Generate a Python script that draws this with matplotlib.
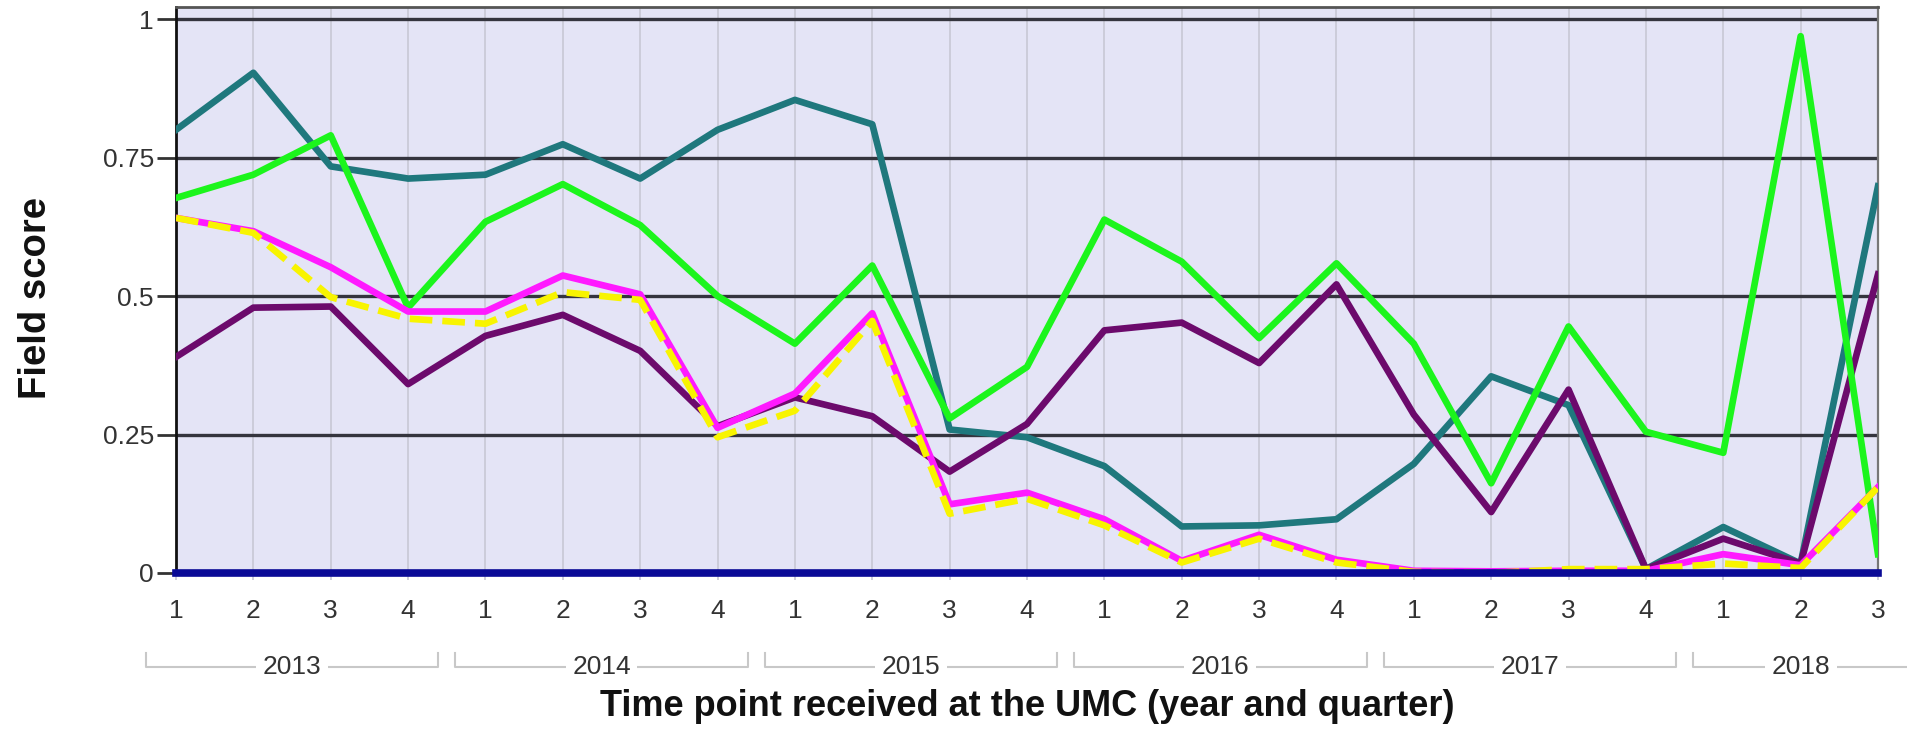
import matplotlib
matplotlib.use("Agg")
import matplotlib.pyplot as plt
import matplotlib.transforms as mtransforms
import numpy as np

plt.rcParams['font.family'] = ['Liberation Sans', 'DejaVu Sans']

# Time axis: year / quarter
years = ['2013', '2014', '2015', '2016', '2017', '2018']
quarters_per_year = [4, 4, 4, 4, 4, 3]
quarter_labels = ['1', '2', '3', '4'] * 5 + ['1', '2', '3']

# Field scores per series
teal_scores = [0.80, 0.903, 0.734, 0.712, 0.719, 0.774, 0.712, 0.80, 0.854, 0.81,
               0.259, 0.245, 0.193, 0.084, 0.086, 0.097, 0.197, 0.355, 0.303,
               0.007, 0.083, 0.017, 0.698]
green_scores = [0.677, 0.719, 0.79, 0.479, 0.634, 0.702, 0.628, 0.50, 0.414, 0.555,
                0.279, 0.372, 0.638, 0.562, 0.424, 0.559, 0.414, 0.162, 0.445,
                0.255, 0.217, 0.969, 0.034]
purple_scores = [0.39, 0.479, 0.481, 0.341, 0.428, 0.466, 0.401, 0.265, 0.317, 0.283,
                 0.183, 0.269, 0.438, 0.452, 0.379, 0.521, 0.286, 0.110, 0.331,
                 0.007, 0.062, 0.017, 0.539]
magenta_scores = [0.641, 0.617, 0.552, 0.472, 0.472, 0.537, 0.503, 0.262, 0.324, 0.469,
                  0.124, 0.145, 0.097, 0.022, 0.069, 0.024, 0.004, 0.003, 0.004,
                  0.004, 0.034, 0.014, 0.155]
yellow_scores = [0.641, 0.614, 0.498, 0.459, 0.45, 0.507, 0.493, 0.245, 0.293, 0.455,
                 0.107, 0.134, 0.086, 0.019, 0.062, 0.019, 0.002, 0.0, 0.007,
                 0.007, 0.017, 0.009, 0.155]
navy_scores = [0.0] * 23

y_ticks = [0, 0.25, 0.5, 0.75, 1]
y_tick_labels = ['0', '0.25', '0.5', '0.75', '1']

x = np.arange(len(quarter_labels))

fig = plt.figure(figsize=(19.08, 7.31), dpi=100)
ax = fig.add_axes([176 / 1908, 1 - 573 / 731, (1878 - 176) / 1908, (573 - 7) / 731])
ax.set_facecolor('#e4e4f6')

# grid
for xi in x:
    ax.axvline(xi, color='#cacad8', lw=1.3, zorder=1)
for yt in y_ticks[1:]:
    ax.axhline(yt, color='#34343e', lw=2.4, zorder=1.5)

lw = 4.8
ax.plot(x, teal_scores, color='#1f787d', lw=lw, zorder=3, solid_joinstyle='round')
ax.plot(x, purple_scores, color='#6c0a6c', lw=lw, zorder=3.2, solid_joinstyle='round')
ax.plot(x, green_scores, color='#1cf51c', lw=lw, zorder=3.4, solid_joinstyle='round')
ax.plot(x, magenta_scores, color='#ff1aff', lw=lw, zorder=3.6, solid_joinstyle='round')
ax.plot(x, yellow_scores, color='#f8f400', lw=lw, zorder=3.8, dashes=(3.4, 1.5))
ax.plot(x, navy_scores, color='#0a0a96', lw=5.5, zorder=4, clip_on=False)

ax.set_xlim(0, len(x) - 1)
ax.set_ylim(0, 1.0217)

ax.set_yticks(y_ticks)
ax.set_yticklabels(y_tick_labels)
ax.set_xticks(x)
ax.set_xticklabels(quarter_labels)
ax.tick_params(axis='y', length=14, width=2, color='#333333', pad=2,
               labelsize=19, labelcolor='#333333')
ax.tick_params(axis='x', length=5, width=1.2, color='#c6c6d4', pad=14,
               labelsize=19, labelcolor='#333333')

ax.spines['left'].set_color('#111111')
ax.spines['left'].set_linewidth(2)
ax.spines['top'].set_color('#555555')
ax.spines['top'].set_linewidth(2)
ax.spines['right'].set_color('#777777')
ax.spines['right'].set_linewidth(1.6)
ax.spines['bottom'].set_visible(False)

# year brackets beneath the quarter labels
trans = mtransforms.blended_transform_factory(ax.transData, fig.transFigure)
line_y = 1 - 667 / 731
tick_top = 1 - 653 / 731
start = 0
for year, nq in zip(years, quarters_per_year):
    x0 = start - 0.39
    x1 = start + nq - 1 + 0.39
    ax.plot([x0, x0, x1, x1], [tick_top, line_y, line_y, tick_top], transform=trans,
            color='#c8c8c8', lw=1.5, clip_on=False, zorder=0)
    ax.text((x0 + x1) / 2, line_y, year, transform=trans, ha='center', va='center',
            fontsize=19, color='#333333',
            bbox=dict(boxstyle='square,pad=0.25', fc='white', ec='none'), zorder=1)
    start += nq

fig.text((176 + 1878) / 2 / 1908, 1 - 706 / 731,
         'Time point received at the UMC (year and quarter)',
         ha='center', va='center', fontsize=26, fontweight='bold', color='#111111')
fig.text(36 / 1908, 1 - 298 / 731, 'Field score', rotation=90,
         ha='center', va='center', fontsize=27.5, fontweight='bold', color='#111111')

fig.savefig('out.png', dpi=100, facecolor='white')
